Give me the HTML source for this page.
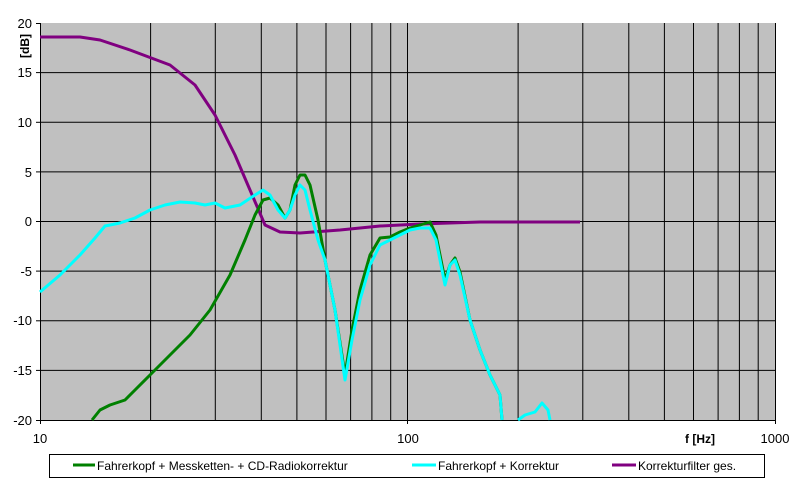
<!DOCTYPE html>
<html><head><style>
body{margin:0;background:#fff;width:800px;height:487px;overflow:hidden;font-family:"Liberation Sans",sans-serif}
</style></head><body>
<svg width="800" height="487" xmlns="http://www.w3.org/2000/svg" font-family="Liberation Sans, sans-serif">
<rect x="40" y="23" width="736" height="397" fill="#c0c0c0"/>
<g stroke="#000" stroke-width="1">
<line x1="40" y1="72.6" x2="776" y2="72.6"/><line x1="40" y1="122.3" x2="776" y2="122.3"/>
<line x1="40" y1="171.9" x2="776" y2="171.9"/><line x1="40" y1="221.5" x2="776" y2="221.5"/>
<line x1="40" y1="271.1" x2="776" y2="271.1"/><line x1="40" y1="320.8" x2="776" y2="320.8"/>
<line x1="40" y1="370.4" x2="776" y2="370.4"/>
<line x1="150.6" y1="23" x2="150.6" y2="420"/><line x1="215.3" y1="23" x2="215.3" y2="420"/>
<line x1="261.3" y1="23" x2="261.3" y2="420"/><line x1="296.9" y1="23" x2="296.9" y2="420"/>
<line x1="326" y1="23" x2="326" y2="420"/><line x1="350.6" y1="23" x2="350.6" y2="420"/>
<line x1="371.9" y1="23" x2="371.9" y2="420"/><line x1="390.7" y1="23" x2="390.7" y2="420"/>
<line x1="407.5" y1="23" x2="407.5" y2="420"/>
<line x1="518.1" y1="23" x2="518.1" y2="420"/><line x1="582.8" y1="23" x2="582.8" y2="420"/>
<line x1="628.8" y1="23" x2="628.8" y2="420"/><line x1="664.4" y1="23" x2="664.4" y2="420"/>
<line x1="693.5" y1="23" x2="693.5" y2="420"/><line x1="718.1" y1="23" x2="718.1" y2="420"/>
<line x1="739.4" y1="23" x2="739.4" y2="420"/><line x1="758.2" y1="23" x2="758.2" y2="420"/>
<line x1="775.5" y1="23" x2="775.5" y2="420"/>
</g>
<g stroke="#000" stroke-width="1">
<line x1="40.5" y1="23" x2="40.5" y2="424"/><line x1="36" y1="420.5" x2="776" y2="420.5"/>
<line x1="36" y1="23.5" x2="40" y2="23.5"/><line x1="36" y1="72.6" x2="40" y2="72.6"/><line x1="36" y1="122.3" x2="40" y2="122.3"/><line x1="36" y1="171.9" x2="40" y2="171.9"/><line x1="36" y1="221.5" x2="40" y2="221.5"/><line x1="36" y1="271.1" x2="40" y2="271.1"/><line x1="36" y1="320.8" x2="40" y2="320.8"/><line x1="36" y1="370.4" x2="40" y2="370.4"/>
<line x1="407.5" y1="420" x2="407.5" y2="424"/><line x1="775.5" y1="420" x2="775.5" y2="424"/>
</g>
<g font-size="13" fill="#000" text-anchor="end">
<text x="32" y="28">20</text><text x="32" y="77">15</text><text x="32" y="127">10</text><text x="32" y="177">5</text><text x="32" y="226">0</text><text x="32" y="276">-5</text><text x="32" y="325">-10</text><text x="32" y="375">-15</text><text x="32" y="425">-20</text>
</g>
<g font-size="13" text-anchor="middle"><text x="40" y="443">10</text><text x="408" y="443">100</text><text x="775" y="443">1000</text></g>
<text x="700" y="443" font-size="12" font-weight="bold" text-anchor="middle">f [Hz]</text>
<text transform="translate(29,46) rotate(-90)" font-size="12" font-weight="bold" text-anchor="middle">[dB]</text>
<polyline fill="none" stroke="#800080" stroke-width="3" stroke-linejoin="round" points="40,37 80,37 100,40 130,50 170,65 195,85 215,115 235,155 250,190 265,225 280,232 300,233 340,230 380,226 420,224 480,222 580,222"/>
<polyline fill="none" stroke="#008000" stroke-width="3" stroke-linejoin="round" points="92,420 100,410 110,405 125,400 135,390 150,375 170,355 190,335 210,310 230,275 245,240 255,215 263,200 270,198 278,205 285,218 290,210 295,185 300,175 305,175 310,185 318,220 325,260 335,310 345,375 352,330 360,290 370,255 380,238 390,237 400,232 410,228 420,225 430,222 436,235 440,255 445,280 450,265 455,258 460,272 470,320 480,350 490,375 500,395 502,420"/>
<polyline fill="none" stroke="#00ffff" stroke-width="3" stroke-linejoin="round" points="40,292 60,275 80,255 95,238 105,226 120,223 135,218 150,210 165,205 180,202 195,203 205,205 215,203 225,208 240,205 255,195 263,190 270,195 278,210 285,218 290,210 295,195 300,185 305,190 310,210 318,240 325,260 335,310 345,380 352,340 360,300 370,265 380,245 390,240 400,235 410,230 420,228 430,228 436,240 440,260 445,285 450,265 455,260 460,275 470,320 480,350 490,375 500,395 502,420"/>
<polyline fill="none" stroke="#00ffff" stroke-width="3" stroke-linejoin="round" points="518,420 525,415 535,412 542,403 548,410 550,420"/>
<rect x="49.5" y="454.5" width="715" height="23" fill="#fff" stroke="#000"/>
<line x1="73" y1="465" x2="95" y2="465" stroke="#008000" stroke-width="3"/>
<line x1="412" y1="465" x2="436" y2="465" stroke="#00ffff" stroke-width="3"/>
<line x1="612" y1="465" x2="636" y2="465" stroke="#800080" stroke-width="3"/>
<g font-size="12"><text x="97" y="470">Fahrerkopf + Messketten- + CD-Radiokorrektur</text><text x="438" y="470">Fahrerkopf + Korrektur</text><text x="638" y="470">Korrekturfilter ges.</text></g>
</svg>
</body></html>
